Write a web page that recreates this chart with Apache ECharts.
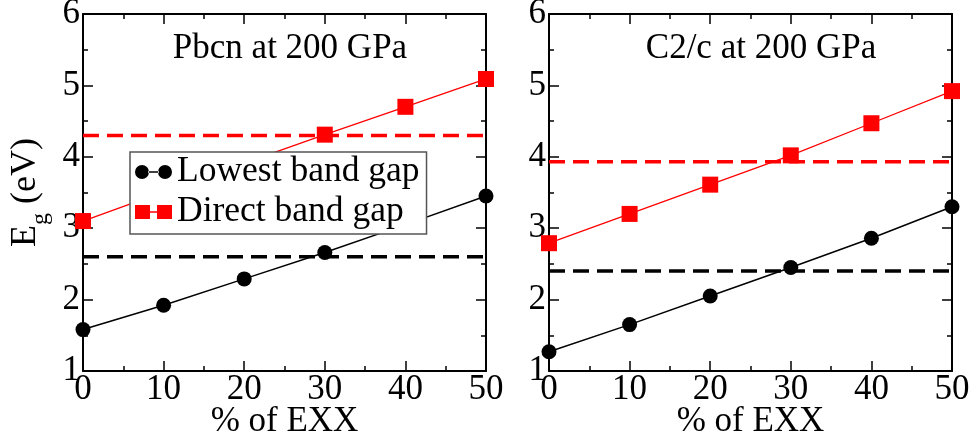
<!DOCTYPE html>
<html>
<head>
<meta charset="utf-8">
<script src="https://cdn.jsdelivr.net/npm/echarts@6/dist/echarts.min.js"></script>
<style>
html,body{margin:0;padding:0;background:#fff;}
#chart{width:974px;height:435px;}
</style>
</head>
<body>
<div id="chart"></div>
<script>
// ---- data ----
const exx = [0, 10, 20, 30, 40, 50];
const panelTitles = ['Pbcn at 200 GPa', 'C2/c at 200 GPa'];
const seriesNames = ['Lowest band gap', 'Direct band gap'];
const pbcnLowest = [1.58, 1.92, 2.29, 2.66, 3.05, 3.45];
const pbcnDirect = [3.10, 3.51, 3.91, 4.31, 4.70, 5.09];
const pbcnLowestRef = 2.60;
const pbcnDirectRef = 4.30;
const c2cLowest = [1.27, 1.65, 2.05, 2.45, 2.86, 3.30];
const c2cDirect = [2.79, 3.20, 3.61, 4.02, 4.47, 4.92];
const c2cLowestRef = 2.40;
const c2cDirectRef = 3.93;
const xTicks = [0, 10, 20, 30, 40, 50];
const yTicks = [1, 2, 3, 4, 5, 6];

const FONT = '"Liberation Serif","Times New Roman",serif';
const pair = (vals) => exx.map((x, i) => [x, vals[i]]);
const flat = (v) => [[exx[0], v], [exx[exx.length - 1], v]];

const chart = echarts.init(document.getElementById('chart'));

const grids = [
  { left: 83, top: 14, width: 403, height: 357, containLabel: false, outerBoundsMode: 'none' },
  { left: 549, top: 14, width: 403, height: 357, containLabel: false, outerBoundsMode: 'none' }
];

const xAxes = [];
const yAxes = [];
grids.forEach((g, gi) => {
  const base = {
    type: 'value', gridIndex: gi,
    min: xTicks[0], max: xTicks[xTicks.length - 1], interval: 10,
    axisLine: { show: true, onZero: false, lineStyle: { color: '#000', width: 2 } },
    axisTick: { show: true, inside: true, length: 10, lineStyle: { color: '#000', width: 1.5 } },
    minorTick: { show: true, splitNumber: 2, length: 5, lineStyle: { color: '#000', width: 1.5 } },
    splitLine: { show: false }
  };
  xAxes.push(Object.assign({}, base, {
    position: 'bottom',
    axisLabel: { show: true, fontFamily: FONT, fontSize: 35, color: '#000', margin: 1 },
    name: '% of EXX', nameLocation: 'middle', nameGap: 33, nameMoveOverlap: false,
    nameTextStyle: { fontFamily: FONT, fontSize: 35, color: '#000' }
  }));
  xAxes.push(Object.assign({}, base, { position: 'top', axisLabel: { show: false } }));
  const ybase = {
    type: 'value', gridIndex: gi,
    min: yTicks[0], max: yTicks[yTicks.length - 1], interval: 1,
    axisLine: { show: true, onZero: false, lineStyle: { color: '#000', width: 2 } },
    axisTick: { show: true, inside: true, length: 10, lineStyle: { color: '#000', width: 1.5 } },
    minorTick: { show: true, splitNumber: 2, length: 5, lineStyle: { color: '#000', width: 1.5 } },
    splitLine: { show: false }
  };
  yAxes.push(Object.assign({}, ybase, {
    position: 'left',
    axisLabel: { show: true, fontFamily: FONT, fontSize: 35, color: '#000', margin: 3 }
  }, gi === 0 ? {
    name: '{e|E}{g|g}{e| (eV)}', nameLocation: 'middle', nameGap: 30, nameMoveOverlap: false,
    nameTextStyle: {
      fontFamily: FONT, fontSize: 36, color: '#000', lineHeight: 54,
      rich: {
        e: { fontFamily: FONT, fontSize: 36, color: '#000', lineHeight: 54, verticalAlign: 'middle' },
        g: { fontFamily: FONT, fontSize: 24, color: '#000', lineHeight: 54, verticalAlign: 'bottom' }
      }
    }
  } : {}));
  yAxes.push(Object.assign({}, ybase, { position: 'right', axisLabel: { show: false } }));
});

const panels = [
  { lowest: pbcnLowest, direct: pbcnDirect, lref: pbcnLowestRef, dref: pbcnDirectRef },
  { lowest: c2cLowest, direct: c2cDirect, lref: c2cLowestRef, dref: c2cDirectRef }
];

const series = [];
panels.forEach((p, gi) => {
  const xi = gi * 2, yi = gi * 2;
  series.push({
    type: 'line', name: 'ref-direct-' + gi, xAxisIndex: xi, yAxisIndex: yi,
    data: flat(p.dref), symbol: 'none', silent: true,
    lineStyle: { color: '#ff0000', width: 3.5, type: [16, 8] }, z: 2
  });
  series.push({
    type: 'line', name: 'ref-lowest-' + gi, xAxisIndex: xi, yAxisIndex: yi,
    data: flat(p.lref), symbol: 'none', silent: true,
    lineStyle: { color: '#000000', width: 3.5, type: [16, 8] }, z: 2
  });
  series.push({
    type: 'line', name: seriesNames[0], xAxisIndex: xi, yAxisIndex: yi,
    data: pair(p.lowest), symbol: 'circle', symbolSize: 15,
    lineStyle: { color: '#000', width: 1.5 }, itemStyle: { color: '#000' }, z: 3
  });
  series.push({
    type: 'line', name: seriesNames[1], xAxisIndex: xi, yAxisIndex: yi,
    data: pair(p.direct), symbol: 'rect', symbolSize: 16,
    lineStyle: { color: '#ff0000', width: 1.3 }, itemStyle: { color: '#ff0000' }, z: 3
  });
});

const circleIcon = 'path://M0,7 A7,7 0 1,0 14,7 A7,7 0 1,0 0,7 Z M23,7 A7,7 0 1,0 37,7 A7,7 0 1,0 23,7 Z M13,6.2 L24,6.2 L24,7.8 L13,7.8 Z';
const squareIcon = 'path://M0,0 L15,0 L15,14 L0,14 Z M22,0 L37,0 L37,14 L22,14 Z M14,6.3 L23,6.3 L23,7.7 L14,7.7 Z';

chart.setOption({
  animation: false,
  backgroundColor: '#fff',
  title: [
    { text: panelTitles[0], left: 285, top: 26, textAlign: 'center',
      textStyle: { fontFamily: FONT, fontSize: 35, fontWeight: 'normal', color: '#000' } },
    { text: panelTitles[1], left: 756, top: 26, textAlign: 'center',
      textStyle: { fontFamily: FONT, fontSize: 35, fontWeight: 'normal', color: '#000' } }
  ],
  grid: grids,
  xAxis: xAxes,
  yAxis: yAxes,
  legend: {
    data: [
      { name: seriesNames[0], icon: circleIcon },
      { name: seriesNames[1], icon: squareIcon }
    ],
    orient: 'vertical', left: 130, top: 152,
    itemWidth: 37, itemHeight: 14, itemGap: 4,
    padding: [2, 7, 4, 5],
    backgroundColor: '#fff', borderColor: '#555', borderWidth: 1.5, borderRadius: 0,
    textStyle: { fontFamily: FONT, fontSize: 35.5, color: '#000', padding: [0, 0, 0, 0] },
    selectedMode: false, z: 10
  },
  series: series
});
</script>
</body>
</html>
